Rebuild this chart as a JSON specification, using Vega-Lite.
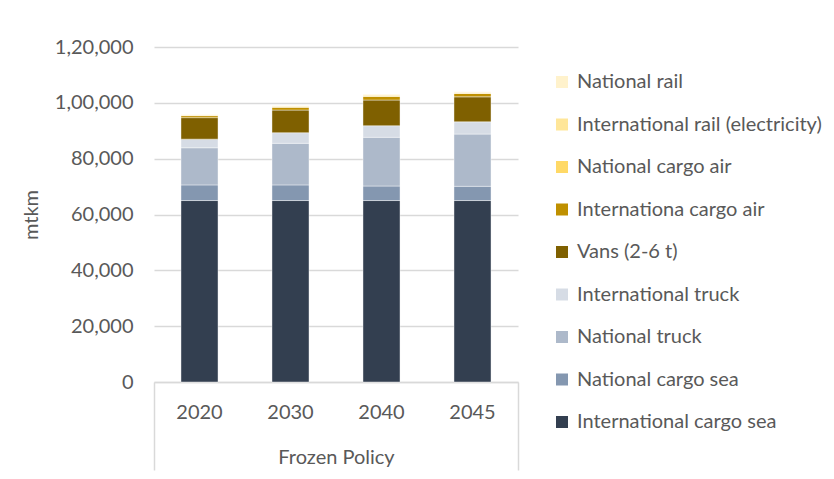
{
  "$schema": "https://vega.github.io/schema/vega-lite/v6.json",
  "width": 364,
  "height": 335,
  "autosize": {"type": "none"},
  "padding": {"left": 154, "top": 47, "right": 316, "bottom": 97},
  "background": "white",
  "config": {
    "view": {"stroke": null},
    "font": "Lato",
    "axis": {"labelColor": "#595959", "titleColor": "#595959", "labelFont": "Lato", "titleFont": "Lato", "titleFontWeight": "normal"},
    "legend": {"labelColor": "#595959", "labelFont": "Lato"}
  },
  "data": {
    "values": [
      {"year": "2020", "mode": "International cargo sea", "value": 65000},
      {"year": "2020", "mode": "National cargo sea", "value": 5600},
      {"year": "2020", "mode": "National truck", "value": 13300},
      {"year": "2020", "mode": "International truck", "value": 3100},
      {"year": "2020", "mode": "Vans (2-6 t)", "value": 7700},
      {"year": "2020", "mode": "Internationa cargo air", "value": 700},
      {"year": "2020", "mode": "National cargo air", "value": 100},
      {"year": "2020", "mode": "International rail (electricity)", "value": 200},
      {"year": "2020", "mode": "National rail", "value": 100},
      {"year": "2030", "mode": "International cargo sea", "value": 65000},
      {"year": "2030", "mode": "National cargo sea", "value": 5600},
      {"year": "2030", "mode": "National truck", "value": 14900},
      {"year": "2030", "mode": "International truck", "value": 3800},
      {"year": "2030", "mode": "Vans (2-6 t)", "value": 8100},
      {"year": "2030", "mode": "Internationa cargo air", "value": 1000},
      {"year": "2030", "mode": "National cargo air", "value": 150},
      {"year": "2030", "mode": "International rail (electricity)", "value": 250},
      {"year": "2030", "mode": "National rail", "value": 150},
      {"year": "2040", "mode": "International cargo sea", "value": 65000},
      {"year": "2040", "mode": "National cargo sea", "value": 5200},
      {"year": "2040", "mode": "National truck", "value": 17450},
      {"year": "2040", "mode": "International truck", "value": 4150},
      {"year": "2040", "mode": "Vans (2-6 t)", "value": 9200},
      {"year": "2040", "mode": "Internationa cargo air", "value": 1300},
      {"year": "2040", "mode": "National cargo air", "value": 200},
      {"year": "2040", "mode": "International rail (electricity)", "value": 350},
      {"year": "2040", "mode": "National rail", "value": 200},
      {"year": "2045", "mode": "International cargo sea", "value": 65000},
      {"year": "2045", "mode": "National cargo sea", "value": 5100},
      {"year": "2045", "mode": "National truck", "value": 18700},
      {"year": "2045", "mode": "International truck", "value": 4400},
      {"year": "2045", "mode": "Vans (2-6 t)", "value": 8950},
      {"year": "2045", "mode": "Internationa cargo air", "value": 1200},
      {"year": "2045", "mode": "National cargo air", "value": 150},
      {"year": "2045", "mode": "International rail (electricity)", "value": 300},
      {"year": "2045", "mode": "National rail", "value": 150}
    ]
  },
  "layer": [
    {
      "transform": [
        {"calculate": "indexof(['International cargo sea', 'National cargo sea', 'National truck', 'International truck', 'Vans (2-6 t)', 'Internationa cargo air', 'National cargo air', 'International rail (electricity)', 'National rail'], datum.mode)", "as": "stackIndex"}
      ],
      "mark": {"type": "bar", "stroke": "#ffffff", "strokeWidth": 0.6, "strokeOpacity": 0.7},
      "encoding": {
        "x": {
          "field": "year",
          "type": "nominal",
          "sort": ["2020", "2030", "2040", "2045"],
          "scale": {"paddingInner": 0.593, "paddingOuter": 0.2965},
          "axis": {
            "title": null,
            "labelAngle": 0,
            "labelFontSize": 20,
            "labelPadding": 20,
            "ticks": false,
            "tickSize": 0,
            "domainColor": "#D9D9D9",
            "domainWidth": 1.5,
            "grid": false
          }
        },
        "y": {
          "field": "value",
          "type": "quantitative",
          "stack": "zero",
          "scale": {"domain": [0, 120000], "nice": false},
          "axis": {
            "title": "mtkm",
            "titleFontSize": 20,
            "titlePadding": 13,
            "values": [0, 20000, 40000, 60000, 80000, 100000, 120000],
            "labelExpr": "datum.value == 120000 ? '1,20,000' : datum.value == 100000 ? '1,00,000' : format(datum.value, ',')",
            "labelFontSize": 20,
            "labelPadding": 21,
            "ticks": false,
            "tickSize": 0,
            "domain": false,
            "gridColor": "#D9D9D9",
            "gridWidth": 1.5
          }
        },
        "order": {"field": "stackIndex", "type": "quantitative", "sort": "ascending"},
        "color": {
          "field": "mode",
          "type": "nominal",
          "scale": {
            "domain": ["International cargo sea", "National cargo sea", "National truck", "International truck", "Vans (2-6 t)", "Internationa cargo air", "National cargo air", "International rail (electricity)", "National rail"],
            "range": ["#333F50", "#8497B0", "#ADB9CA", "#D6DCE5", "#7F6000", "#BF9000", "#FFD966", "#FFE699", "#FFF2CC"]
          },
          "legend": {
            "title": null,
            "orient": "none",
            "legendX": 398,
            "legendY": 25,
            "padding": 0,
            "values": ["National rail", "International rail (electricity)", "National cargo air", "Internationa cargo air", "Vans (2-6 t)", "International truck", "National truck", "National cargo sea", "International cargo sea"],
            "symbolType": "square",
            "symbolSize": 144,
            "symbolStrokeWidth": 0,
            "labelFontSize": 20,
            "labelOffset": 5,
            "labelLimit": 400,
            "rowPadding": 22.5
          }
        }
      }
    },
    {
      "mark": {"type": "rule", "opacity": 0},
      "encoding": {
        "x": {
          "datum": 0,
          "type": "quantitative",
          "scale": {"domain": [0, 1], "nice": false},
          "axis": {
            "orient": "bottom",
            "values": [0, 1],
            "ticks": true,
            "tickSize": 88,
            "tickColor": "#D9D9D9",
            "tickWidth": 1.5,
            "labels": false,
            "domain": false,
            "grid": false,
            "title": "Frozen Policy",
            "titleFontSize": 20,
            "titleY": 75,
            "titleBaseline": "middle"
          }
        }
      }
    }
  ],
  "resolve": {"scale": {"x": "independent"}, "axis": {"x": "independent"}}
}
